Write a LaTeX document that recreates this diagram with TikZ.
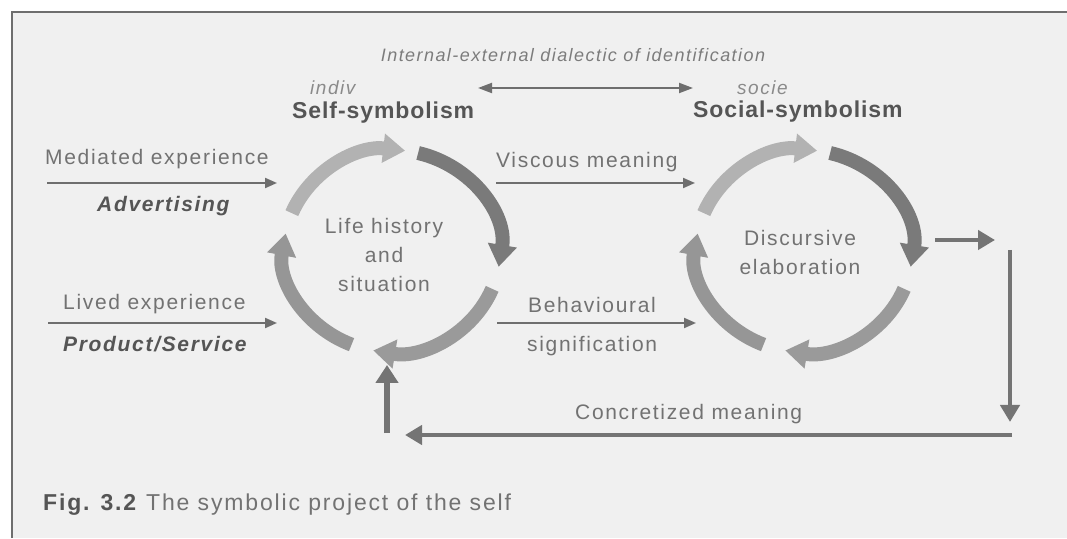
\documentclass[tikz,border=0pt]{standalone}
\usepackage{fontspec}
\setmainfont{Liberation Sans}[LetterSpace=8]
\newfontfamily\headfont{Liberation Sans}[LetterSpace=4]
\newfontfamily\capfont{Liberation Sans}[LetterSpace=8]
\usetikzlibrary{arrows.meta}
\definecolor{paper}{HTML}{F0F0F0}
\definecolor{txt}{HTML}{727272}
\definecolor{headtxt}{HTML}{555555}
\definecolor{ittxt}{HTML}{7C7C7C}
\definecolor{segA}{HTML}{B2B2B2}
\definecolor{segB}{HTML}{7A7A7A}
\definecolor{segC}{HTML}{9A9A9A}
\definecolor{segD}{HTML}{969696}
\definecolor{linec}{HTML}{6E6E6E}
\definecolor{thickc}{HTML}{747474}
\definecolor{handc}{HTML}{8A8A8A}
\begin{document}
\begin{tikzpicture}[x=1pt,y=1pt,
  lbl/.style={text=txt, font=\fontsize{21}{29}\selectfont, inner sep=0pt},
  boldit/.style={text=headtxt, font=\fontsize{21}{25}\selectfont\bfseries\itshape, inner sep=0pt},
  headlbl/.style={text=headtxt, font=\headfont\fontsize{23}{27}\selectfont\bfseries, inner sep=0pt},
  toplbl/.style={text=ittxt, font=\fontsize{18}{22}\selectfont\itshape, inner sep=0pt},
  hand/.style={text=handc, font=\fontsize{19}{22}\selectfont\itshape, inner sep=0pt},
  thinarrow/.style={draw=linec, line width=2pt, -{Triangle[length=12pt,width=10pt]}},
  thickarrow/.style={draw=thickc, line width=4.5pt, -{Triangle[length=17pt,width=19pt]}},
  ringseg/.style={line width=14pt, -{Triangle[length=22pt,width=28pt]}},
]
\useasboundingbox (0,0) rectangle (1067,538);
\fill[paper] (12,0) rectangle (1067,526);
\draw[draw=linec, line width=1.5pt] (12,0) -- (12,526) -- (1067,526);

% ring centres
\coordinate (c1) at (392,287);
\coordinate (c2) at (804,287);

% ring 1 (self-symbolism)
\draw[ringseg, draw=segA] ([shift={(158:108 and 101)}]c1) arc[start angle=158, end angle=83, x radius=108, y radius=101];
\draw[ringseg, draw=segB] ([shift={(76:108 and 101)}]c1) arc[start angle=76, end angle=-9, x radius=108, y radius=101];
\draw[ringseg, draw=segC] ([shift={(-22:108 and 101)}]c1) arc[start angle=-22, end angle=-100, x radius=108, y radius=101];
\draw[ringseg, draw=segD] ([shift={(-112:108 and 101)}]c1) arc[start angle=-112, end angle=-190, x radius=108, y radius=101];

% ring 2 (social-symbolism)
\draw[ringseg, draw=segA] ([shift={(158:108 and 101)}]c2) arc[start angle=158, end angle=83, x radius=108, y radius=101];
\draw[ringseg, draw=segB] ([shift={(76:108 and 101)}]c2) arc[start angle=76, end angle=-9, x radius=108, y radius=101];
\draw[ringseg, draw=segC] ([shift={(-22:108 and 101)}]c2) arc[start angle=-22, end angle=-100, x radius=108, y radius=101];
\draw[ringseg, draw=segD] ([shift={(-112:108 and 101)}]c2) arc[start angle=-112, end angle=-190, x radius=108, y radius=101];

% texts
\node[toplbl, anchor=base] (dial) at (573,476) {Internal-external dialectic of identification};
\node[hand, anchor=base west] (hw1) at (310,443) {indiv};
\node[hand, anchor=base west] (hw2) at (737,443) {socie};
\node[headlbl, anchor=base west] (self) at (292,419) {Self-symbolism};
\node[headlbl, anchor=base west] (social) at (693,420) {Social-symbolism};

\node[lbl, anchor=base west] (med) at (45,373) {Mediated experience};
\node[boldit, anchor=base west] (adv) at (97,326) {Advertising};
\node[lbl, anchor=base west] (lived) at (63,228) {Lived experience};
\node[boldit, anchor=base west] (prod) at (63,186) {Product/Service};
\node[lbl, anchor=base west] (visc) at (496,370) {Viscous meaning};
\node[lbl, anchor=base west] (behav) at (528,225) {Behavioural};
\node[lbl, anchor=base west] (signif) at (527,186) {signification};
\node[lbl, align=center] (life) at (384,283) {Life history\\and\\situation};
\node[lbl, align=center] (disc) at (800,286) {Discursive\\elaboration};
\node[lbl, anchor=base west] (concr) at (575,118) {Concretized meaning};
\node[anchor=base west, inner sep=0pt, font=\capfont\fontsize{23}{27}\selectfont] (cap) at (43,28)
  {\textcolor{headtxt}{\bfseries Fig. 3.2}\hspace{10pt}\textcolor{txt}{The symbolic project of the self}};

% connector end points
\coordinate (medS) at (47,355);   \coordinate (medE) at (277,355);
\coordinate (livS) at (48,215);   \coordinate (livE) at (277,215);
\coordinate (visS) at (496,355);  \coordinate (visE) at (695,355);
\coordinate (behS) at (497,215);  \coordinate (behE) at (696,215);
\coordinate (dL) at (478,450);    \coordinate (dR) at (693,450);
\coordinate (outS) at (935,298);  \coordinate (outE) at (995,298);
\coordinate (vTop) at (1010,288); \coordinate (vBot) at (1010,116);
\coordinate (bR) at (1012,103);   \coordinate (bL) at (405,103);
\coordinate (upS) at (387,105);   \coordinate (upE) at (387,173);

\draw[thinarrow] (medS) -- (medE);
\draw[thinarrow] (livS) -- (livE);
\draw[thinarrow] (visS) -- (visE);
\draw[thinarrow] (behS) -- (behE);
\draw[draw=linec, line width=2pt, {Triangle[length=14pt,width=10pt]}-{Triangle[length=14pt,width=10pt]}] (dL) -- (dR);

\draw[thickarrow] (outS) -- (outE);
\draw[thickarrow] (vTop) -- (vBot);
\draw[thickarrow] (bR) -- (bL);
\draw[thickarrow, line width=6pt, -{Triangle[length=18pt,width=22pt]}] (upS) -- (upE);
\end{tikzpicture}
\end{document}
